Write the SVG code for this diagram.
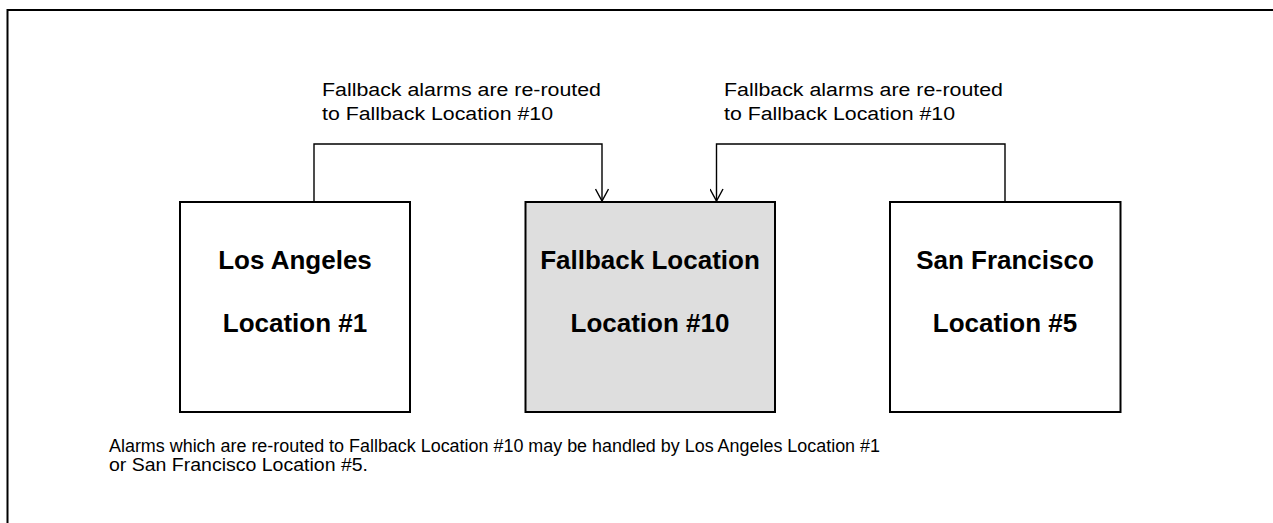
<svg xmlns="http://www.w3.org/2000/svg" width="1273" height="523" viewBox="0 0 1273 523">
<style>
.box{fill:#ffffff;stroke:#000;stroke-width:2}
.gray{fill:#dedede}
.title{font-family:"Liberation Sans",Arial,sans-serif;font-weight:bold;font-size:26px;text-anchor:middle;fill:#000}
.lbl{font-family:"Liberation Sans",Arial,sans-serif;font-size:18px;fill:#000}
.note{font-family:"Liberation Sans",Arial,sans-serif;font-size:17.5px;fill:#000}
.conn{fill:none;stroke:#000;stroke-width:1.4}
.frame{fill:none;stroke:#000;stroke-width:2}
</style>
<defs>
<marker id="arr" markerWidth="16" markerHeight="14" refX="13" refY="7" orient="auto" markerUnits="userSpaceOnUse">
<path d="M1,0.5 L13,7 L1,13.5" fill="none" stroke="#000" stroke-width="1.4"/>
</marker>
</defs>
<rect width="1273" height="523" fill="#ffffff"/>
<path class="frame" d="M7.5,530 V10 H1280"/>
<g id="connectors">
<path class="conn" d="M314,202 V144 H602 V201" marker-end="url(#arr)"/>
<path class="conn" d="M1005,202 V144 H716.5 V201" marker-end="url(#arr)"/>
</g>
<g id="label-left">
<text class="lbl" x="322" y="96" textLength="279" lengthAdjust="spacingAndGlyphs">Fallback alarms are re-routed</text>
<text class="lbl" x="322" y="120" textLength="231" lengthAdjust="spacingAndGlyphs">to Fallback Location #10</text>
</g>
<g id="label-right">
<text class="lbl" x="724" y="96" textLength="279" lengthAdjust="spacingAndGlyphs">Fallback alarms are re-routed</text>
<text class="lbl" x="724" y="120" textLength="231" lengthAdjust="spacingAndGlyphs">to Fallback Location #10</text>
</g>
<g id="node-la">
<rect class="box" x="180" y="202" width="230" height="210"/>
<text class="title" x="295" y="269">Los Angeles</text>
<text class="title" x="295" y="332">Location #1</text>
</g>
<g id="node-fallback">
<rect class="box gray" x="525.5" y="202" width="249.5" height="210"/>
<text class="title" x="650" y="269">Fallback Location</text>
<text class="title" x="650" y="332">Location #10</text>
</g>
<g id="node-sf">
<rect class="box" x="890" y="202" width="230.5" height="210"/>
<text class="title" x="1005" y="269">San Francisco</text>
<text class="title" x="1005" y="332">Location #5</text>
</g>
<g id="note">
<text class="note" x="109" y="452" textLength="771" lengthAdjust="spacingAndGlyphs">Alarms which are re-routed to Fallback Location #10 may be handled by Los Angeles Location #1</text>
<text class="note" x="109" y="471" textLength="259" lengthAdjust="spacingAndGlyphs">or San Francisco Location #5.</text>
</g>
</svg>
